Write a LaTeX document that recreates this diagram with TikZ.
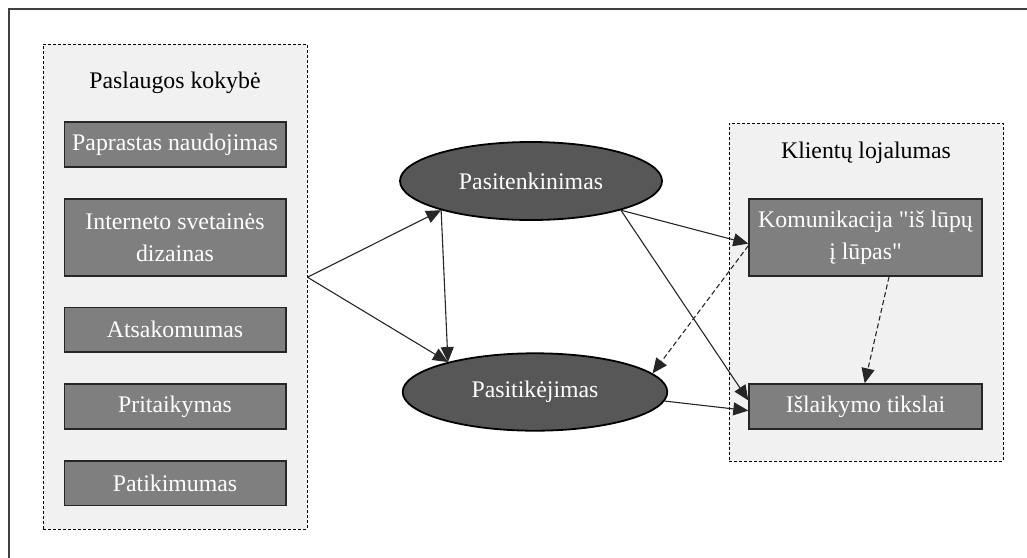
\documentclass[tikz,border=0pt]{standalone}
\usepackage{fontspec}
\setmainfont{Liberation Serif}
\usetikzlibrary{shapes.geometric,arrows.meta}
\begin{document}
\begin{tikzpicture}[x=0.5pt,y=-0.5pt,
  every node/.style={font=\fontsize{11.9}{16}\selectfont},
  group/.style={draw=black,line width=0.5pt,dash pattern=on 1.5pt off 1pt,fill=groupfill,inner sep=0pt},
  grouptitle/.style={text=black},
  item/.style={draw=itemedge,line width=0.7pt,fill=itemfill,text=white,inner sep=0pt,
    minimum width=110.8pt,minimum height=22.4pt,align=center},
  factor/.style={ellipse,draw=black,line width=0.9pt,fill=factorfill,text=white,inner sep=0pt,
    minimum width=131pt,minimum height=39pt},
  link/.style={draw=black!85,line width=0.55pt,-{Triangle[length=7.5pt,width=6.5pt]}},
  dlink/.style={link,dash pattern=on 2.5pt off 1.5pt}]
\definecolor{groupfill}{HTML}{F1F1F1}
\definecolor{itemfill}{HTML}{7F7F7F}
\definecolor{itemedge}{HTML}{262626}
\definecolor{factorfill}{HTML}{575757}
\definecolor{framecol}{HTML}{404040}

\useasboundingbox (0,0) rectangle (1027,557);
% outer frame, running past the page on the right and bottom
\draw[framecol,line width=0.8pt] (9,1100) -- (9,9) -- (1200,9);

% service quality group
\node[group,minimum width=132pt,minimum height=242.5pt] (L) at (175,286.5) {};
\node[grouptitle] (Lt) at (175,83) {Paslaugos kokybė};
\node[item] (b1) at (175,144.5) {Paprastas naudojimas};
\node[item,minimum height=38.5pt] (b2) at (175,237.5) {Interneto svetainės\\dizainas};
\node[item] (b3) at (175,329.7) {Atsakomumas};
\node[item] (b4) at (175,406.4) {Pritaikymas};
\node[item] (b5) at (175,483.2) {Patikimumas};

% customer loyalty group
\node[group,minimum width=137pt,minimum height=169pt] (R) at (866,292) {};
\node[grouptitle] (Rt) at (866,153) {Klientų lojalumas};
\node[item,minimum width=116.5pt,minimum height=38.5pt] (k) at (865.5,237.5)
  {Komunikacija \textquotedbl iš lūpų\\į lūpas\textquotedbl};
\node[item,minimum width=116.5pt,minimum height=22.5pt] (t) at (865.5,406.5) {Išlaikymo tikslai};

% mediating factors
\node[factor] (s1) at (531,181) {Pasitenkinimas};
\node[factor,minimum width=132.3pt,minimum height=38.7pt] (s2) at (535,392) {Pasitikėjimas};

% connectors
\draw[link] (L.4.5) -- (s1.198);
\draw[link] (L.4.5) -- (s2.161.6);
\draw[link] (s1.198) -- (s2.161.6);
\draw[link] (s1.-18) -- (k.183);
\draw[link] (s1.-18) -- (t.177);
\draw[link] (s2.-4) -- (t.182);
\draw[dlink] (k.184) -- (s2.9);
\draw[dlink] (k.-59) -- (t.92);
\end{tikzpicture}
\end{document}
